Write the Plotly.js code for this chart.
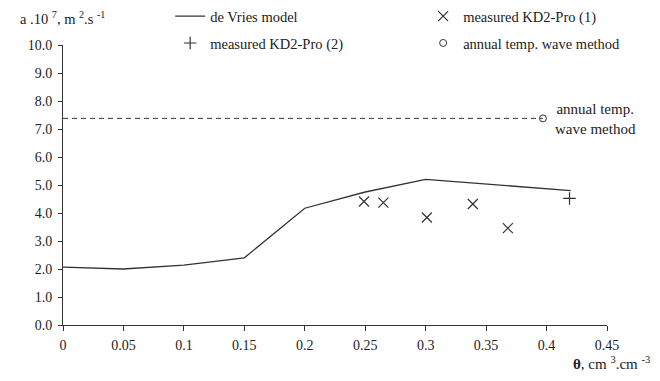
<!DOCTYPE html>
<html>
<head>
<meta charset="utf-8">
<script src="https://cdn.plot.ly/plotly-3.0.1.min.js"></script>
<style>html,body{margin:0;padding:0;background:#fff;}#chart{width:660px;height:381px;}</style>
</head>
<body>
<div id="chart"></div>
<script>
// de Vries model
const modelTheta = [0, 0.05, 0.1, 0.15, 0.2, 0.25, 0.3, 0.4, 0.42];
const modelA = [2.07, 2.0, 2.14, 2.4, 4.17, 4.75, 5.2, 4.85, 4.8];
// measured KD2-Pro (1)
const kd1Theta = [0.249, 0.265, 0.301, 0.339, 0.368];
const kd1A = [4.41, 4.37, 3.84, 4.32, 3.46];
// measured KD2-Pro (2)
const kd2Theta = [0.419];
const kd2A = [4.52];
// annual temp. wave method
const waveTheta = [0.397];
const waveA = [7.38];
const waveLineTheta = [0, 0.397];
const xTicks = [0, 0.05, 0.1, 0.15, 0.2, 0.25, 0.3, 0.35, 0.4, 0.45];
const xTickText = ['0', '0.05', '0.1', '0.15', '0.2', '0.25', '0.3', '0.35', '0.4', '0.45'];
const yTicks = [0, 1, 2, 3, 4, 5, 6, 7, 8, 9, 10];
const yTickText = ['0.0', '1.0', '2.0', '3.0', '4.0', '5.0', '6.0', '7.0', '8.0', '9.0', '10.0'];

const font = {family: 'Liberation Serif', size: 14, color: '#222'};
const bigFont = {family: 'Liberation Serif', size: 15, color: '#222'};
const legFont = {family: 'Liberation Serif', size: 14.5, color: '#222'};
const ink = '#333';

const traces = [
  {x: modelTheta, y: modelA, mode: 'lines', name: 'de Vries model',
   legend: 'legend', legendgroup: 'a',
   line: {color: ink, width: 1.3}},
  {x: kd1Theta, y: kd1A, mode: 'markers', name: 'measured KD2-Pro (1)',
   legend: 'legend2', legendgroup: 'b',
   marker: {symbol: 'x-thin-open', size: 10, color: ink, line: {color: ink, width: 1.2}}},
  {x: kd2Theta, y: kd2A, mode: 'markers', name: 'measured KD2-Pro (2)',
   legend: 'legend', legendgroup: 'c',
   marker: {symbol: 'cross-thin-open', size: 9, color: ink, line: {color: ink, width: 1.2}}},
  {x: waveTheta, y: waveA, mode: 'markers', name: 'annual temp. wave method',
   legend: 'legend2', legendgroup: 'd',
   marker: {symbol: 'circle-open', size: 7, color: ink, line: {color: ink, width: 1}}},
  {x: waveLineTheta, y: [waveA[0], waveA[0]], mode: 'lines', showlegend: false,
   line: {color: ink, width: 1, dash: '5px,4px'}, hoverinfo: 'skip'}
];

const legBase = {orientation: 'v', xref: 'paper', yref: 'paper', xanchor: 'left', yanchor: 'top',
  traceorder: 'grouped', tracegroupgap: 5, font: legFont, bgcolor: 'rgba(0,0,0,0)', itemwidth: 30};

const layout = {
  width: 660, height: 381,
  margin: {l: 63, r: 53, t: 45, b: 56, autoexpand: false},
  paper_bgcolor: '#fff', plot_bgcolor: '#fff',
  font: font,
  showlegend: true,
  legend: Object.assign({}, legBase, {x: 0.197, y: 1.16}),
  legend2: Object.assign({}, legBase, {x: 0.662, y: 1.16}),
  xaxis: {range: [0, 0.45], tickvals: xTicks, ticktext: xTickText,
          showgrid: false, zeroline: false, showline: true, linecolor: ink, linewidth: 1,
          ticks: 'outside', ticklen: 5, tickcolor: ink, tickfont: font, ticklabelstandoff: 2},
  yaxis: {range: [0, 10], tickvals: yTicks, ticktext: yTickText,
          showgrid: false, zeroline: false, showline: true, linecolor: ink, linewidth: 1,
          ticks: 'outside', ticklen: 4, tickcolor: ink, tickfont: font, ticklabelstandoff: 3},
  annotations: [
    {xref: 'paper', yref: 'paper', x: -0.082, y: 1.095, xanchor: 'left', yanchor: 'middle',
     text: 'a .10 <sup>7</sup>, m <sup>2</sup>.s <sup>-1</sup>', showarrow: false, font: legFont},
    {xref: 'paper', yref: 'paper', x: 1.082, y: -0.135, xanchor: 'right', yanchor: 'middle',
     text: '<b>θ</b>, cm <sup>3</sup>.cm <sup>-3</sup>', showarrow: false, font: bigFont},
    {xref: 'x', yref: 'y', x: waveTheta[0], y: waveA[0], xanchor: 'left', yanchor: 'middle',
     xshift: 10, yshift: -1, align: 'center',
     text: 'annual temp.<br>wave method', showarrow: false, font: bigFont}
  ]
};

Plotly.newPlot('chart', traces, layout, {staticPlot: true, displayModeBar: false});
</script>
</body>
</html>
